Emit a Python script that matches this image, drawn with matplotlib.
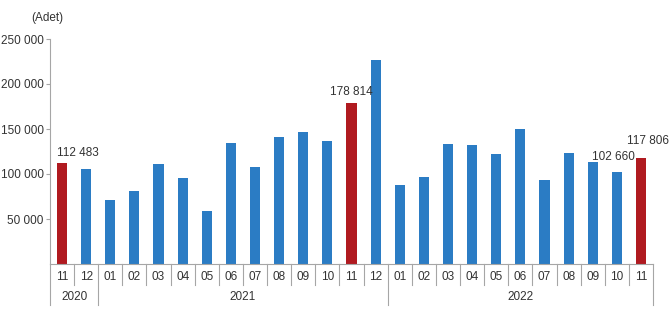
import matplotlib
matplotlib.use("Agg")
import matplotlib.pyplot as plt

# Data
months = ["11", "12",
          "01", "02", "03", "04", "05", "06", "07", "08", "09", "10", "11", "12",
          "01", "02", "03", "04", "05", "06", "07", "08", "09", "10", "11"]
years = ["2020", "2021", "2022"]
year_spans = [(0, 2), (2, 14), (14, 25)]
values = [112483, 105200,
          70700, 80700, 111500, 95900, 59300, 134800, 107400, 141100, 147000, 136700, 178814, 226700,
          87800, 97000, 133700, 132600, 122600, 150400, 93700, 123300, 113300, 102660, 117806]
highlight = [0, 12, 24]
labelled = {0: (16, 10), 12: (0, 11), 23: (-3, 15), 24: (7, 17)}
yticks = [50000, 100000, 150000, 200000, 250000]

BLUE = "#2b7cc4"
RED = "#b01a20"
GRAY = "#a6a6a6"
TXT = "#333333"

plt.rcParams["font.family"] = ["Liberation Sans", "DejaVu Sans"]

fig = plt.figure(figsize=(6.7, 3.1), dpi=100)
ax = fig.add_axes([50 / 670, 1 - 264 / 310, 603 / 670, 225 / 310])

x = list(range(len(values)))
colors = [RED if i in highlight else BLUE for i in x]
ax.bar(x, values, width=0.42, color=colors)

for i, (dx, dy) in labelled.items():
    v = values[i]
    ax.annotate(f"{v:,}".replace(",", " "), (i, v), xytext=(dx, dy),
                textcoords="offset pixels", ha="center", va="center",
                fontsize=8.5, color=TXT)

ax.set_xlim(-0.5, len(values) - 0.5)
ax.set_ylim(0, 250000)
ax.set_yticks(yticks)
ax.set_yticklabels([f"{t:,}".replace(",", " ") for t in yticks], fontsize=8.5, color=TXT)
ax.tick_params(axis="y", length=3, color=GRAY, pad=1.5)
ax.set_xticks([])
for s in ["top", "right"]:
    ax.spines[s].set_visible(False)
ax.spines["left"].set_color(GRAY)
ax.spines["bottom"].set_color(GRAY)

tr = ax.get_xaxis_transform()
year_edges = {s - 0.5 for s, e in year_spans} | {year_spans[-1][1] - 0.5}
for b in range(len(values) + 1):
    xb = b - 0.5
    y_end = -0.182 if xb in year_edges else -0.093
    ax.plot([xb, xb], [0, y_end], transform=tr, color=GRAY, lw=0.8, clip_on=False)

for i, m in enumerate(months):
    ax.text(i, -0.058, m, transform=tr, ha="center", va="center", fontsize=8.5, color=TXT)
for yr, (s, e) in zip(years, year_spans):
    ax.text((s + e - 1) / 2, -0.147, yr, transform=tr, ha="center", va="center",
            fontsize=8.5, color=TXT)

fig.text(47 / 670, 1 - 18 / 310, "(Adet)", ha="center", va="center", fontsize=8.5, color=TXT)

fig.savefig("out.png", dpi=100)
